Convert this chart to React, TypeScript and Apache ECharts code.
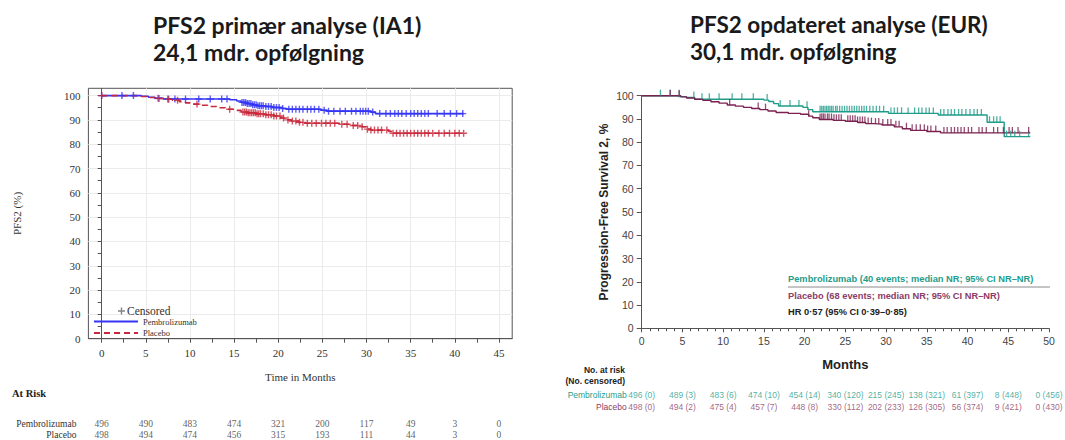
import React, { useEffect, useRef } from "react";
import * as echarts from "echarts";

// ---------- Left panel: PFS2 primær analyse (IA1) ----------
const ia1PembroT = [0, 4.5, 5.3, 6, 7, 14.5, 15.3, 15.8, 16.4, 17, 17.6, 18.5, 19.3, 20.5, 21, 24.8, 25.5, 30.5, 31, 41];
const ia1PembroS = [100, 99.7, 99.3, 98.9, 98.6, 98.3, 97.8, 97.2, 96.7, 96.2, 95.8, 95.5, 95.1, 94.7, 94.4, 94, 93.6, 93.2, 92.6, 92.6];
const ia1PlaceboT = [0, 4.5, 5.5, 6.3, 7, 8, 8.8, 9.5, 10.3, 11, 12, 13, 14, 15, 15.8, 16.5, 17.5, 18.5, 19.5, 20.3, 20.8, 21.5, 22.3, 23, 27, 28, 29.5, 30, 30.5, 32.5, 33, 41];
const ia1PlaceboS = [100, 99.6, 99.2, 98.8, 98.5, 98.1, 97.5, 97, 96.5, 96, 95.5, 95, 94.4, 93.9, 93.2, 92.9, 92.5, 92.1, 91.6, 90.8, 90, 89.5, 89, 88.6, 88.2, 87.7, 87.2, 86.2, 85.8, 85.3, 84.5, 84.5];
const ia1PembroCens = [0, 2.3, 3.6, 6.4, 7.5, 8.3, 9.5, 11, 12.3, 13.6, 14.2, 15.9, 16.1, 16.3, 16.5, 16.7, 16.9, 17.1, 17.3, 17.5, 17.7, 17.9, 18.1, 18.3, 18.6, 18.9, 19.2, 19.5, 19.8, 20.1, 20.5, 21.2, 21.6, 22, 22.4, 22.8, 23.3, 23.7, 24.1, 24.6, 25.2, 25.7, 26.3, 27, 27.6, 28.3, 28.8, 29.3, 29.6, 29.9, 30.2, 30.7, 31.5, 32.2, 32.7, 33.2, 33.6, 34, 34.5, 35, 35.4, 35.8, 36.2, 36.6, 37, 38, 38.8, 39.5, 40.2, 40.9];
const ia1PlaceboCens = [0, 6.5, 7.6, 8.6, 10.8, 14.5, 16, 16.2, 16.4, 16.6, 16.8, 17, 17.2, 17.4, 17.6, 17.8, 18, 18.3, 18.6, 18.9, 19.2, 19.5, 19.8, 20.2, 20.6, 21.1, 21.6, 22, 22.4, 22.8, 23.3, 23.8, 24.3, 24.9, 25.4, 25.9, 26.4, 27.2, 27.8, 28.5, 29, 29.5, 30.1, 30.5, 30.9, 31.3, 31.7, 32.3, 33, 33.4, 33.8, 34.2, 34.6, 35, 35.4, 35.8, 36.2, 36.6, 37, 37.5, 38.2, 38.8, 39.4, 40, 40.5, 41];
const ia1XTicks = [0, 5, 10, 15, 20, 25, 30, 35, 40, 45];
const ia1XMinor = [2.5, 7.5, 12.5, 17.5, 22.5, 27.5, 32.5, 37.5, 42.5];
const ia1YTicks = [0, 10, 20, 30, 40, 50, 60, 70, 80, 90, 100];
const ia1YMinor = [5, 15, 25, 35, 45, 55, 65, 75, 85, 95];
const ia1RiskTimes = [0, 5, 10, 15, 20, 25, 30, 35, 40, 45];
const ia1RiskPembro = [496, 490, 483, 474, 321, 200, 117, 49, 3, 0];
const ia1RiskPlacebo = [498, 494, 474, 456, 315, 193, 111, 44, 3, 0];

// ---------- Right panel: PFS2 opdateret analyse (EUR) ----------
const eurPembroT = [0, 4.5, 5.5, 6.5, 15, 15.6, 16.2, 16.8, 19.8, 20.4, 21, 30.3, 36.4, 42.4, 44.5, 47.7];
const eurPembroS = [100, 99.6, 99.2, 98.5, 98.1, 97.5, 96.6, 95.6, 95, 94, 93.1, 92.4, 91.7, 88.6, 82.4, 82.4];
const eurPlaceboT = [0, 4.8, 5.5, 6.5, 7.5, 8.5, 9.5, 10.5, 11.5, 12.5, 13.5, 14.5, 15.5, 16.5, 18, 19.5, 20.5, 21, 21.8, 23.5, 25, 26.5, 27.5, 28.5, 29.5, 31, 32, 33, 35, 36.7, 47.7];
const eurPlaceboS = [100, 99.5, 99, 98.5, 98, 97.4, 96.8, 96, 95.5, 95, 94.5, 94, 93.4, 92.8, 92.4, 92, 91.2, 90.5, 89.8, 89.4, 89, 88.5, 88, 87.8, 87.4, 86.6, 85.8, 85.1, 84.6, 84, 84];
const eurPembroCens = [2.3, 3.5, 4.6, 6.4, 7.4, 8.3, 9.5, 11.1, 12.3, 13.7, 15.4, 17, 18.2, 19.3, 20.3, 21.9, 22.1, 22.3, 22.5, 22.7, 22.9, 23.1, 23.3, 23.5, 23.8, 24, 24.3, 24.6, 24.9, 25.2, 25.5, 25.8, 26.1, 26.4, 26.7, 27, 27.3, 27.6, 28, 28.4, 28.8, 29.2, 29.7, 30.6, 31, 31.4, 31.9, 32.7, 33.5, 34, 34.4, 34.9, 35.3, 35.8, 36.7, 37.1, 37.6, 38, 38.4, 38.9, 39.3, 39.8, 40.3, 40.8, 41.2, 41.7, 42.7, 43.2, 43.6, 44, 44.8, 45.3, 45.8, 46.4, 47.5];
const eurPlaceboCens = [3.5, 4.6, 10.8, 14.3, 15.2, 20.5, 21.9, 22.1, 22.3, 22.5, 22.8, 23, 23.3, 23.6, 23.9, 24.2, 24.5, 25.3, 25.6, 25.9, 26.2, 26.5, 26.8, 27.1, 27.4, 27.8, 28.2, 28.7, 29.1, 29.6, 30.2, 30.6, 31.2, 31.6, 32.5, 33.2, 33.7, 34.2, 34.7, 35.1, 35.5, 36.1, 37.1, 37.5, 38, 38.4, 38.8, 39.2, 39.6, 40.1, 40.5, 41.4, 41.8, 42.3, 43.2, 43.7, 44.4, 45.1, 45.5, 46.2, 47.5];
const eurRiskTimes = [0, 5, 10, 15, 20, 25, 30, 35, 40, 45, 50];
const eurRiskPembro = [496, 489, 483, 474, 454, 340, 215, 138, 61, 8, 0];
const eurCensPembro = [0, 3, 6, 10, 14, 120, 245, 321, 397, 448, 456];
const eurRiskPlacebo = [498, 494, 475, 457, 448, 330, 202, 126, 56, 9, 0];
const eurCensPlacebo = [0, 2, 4, 7, 8, 112, 233, 305, 374, 421, 430];

const BLUE = "#3535f5";
const RED = "#c8283a";
const TEAL = "#1f9c8a";
const MAROON = "#7b2150";
const MAROON_TXT = "#8c3c66";
const SERIF = "'Liberation Serif', 'Times New Roman', serif";
const SANS = "'Liberation Sans', Arial, sans-serif";
const TITLE = "Lato, 'Open Sans', sans-serif";
const PLUS = "path://M4,0H6V4H10V6H6V10H4V6H0V4H4Z";

const stepAt = (T: number[], S: number[], t: number) => {
  let v = S[0];
  for (let i = 0; i < T.length; i++) if (T[i] <= t) v = S[i];
  return v;
};
const curve = (T: number[], S: number[]) => T.map((t, i) => [t, S[i]]);
const cens = (C: number[], T: number[], S: number[]) => C.map((t) => [t, stepAt(T, S, t)]);

export default function App() {
  const ref = useRef<HTMLDivElement>(null);
  useEffect(() => {
    document.body.style.margin = "0";
    if (!ref.current) return;
    const chart = echarts.init(ref.current, undefined, { renderer: "svg" });
    const axisGrey = "#555";
    const option: any = {
      animation: false,
      backgroundColor: "#fff",
      title: [
        {
          text: "PFS2 primær analyse (IA1)\n24,1 mdr. opfølgning",
          left: 153,
          top: 11,
          padding: 0,
          textStyle: { fontFamily: TITLE, fontSize: 23, fontWeight: "bold", lineHeight: 27, color: "#1a1a1a" },
        },
        {
          text: "PFS2 opdateret analyse (EUR)\n30,1 mdr. opfølgning",
          left: 690,
          top: 11,
          padding: 0,
          textStyle: { fontFamily: TITLE, fontSize: 22.5, fontWeight: "bold", lineHeight: 27, color: "#1a1a1a" },
        },
      ],
      legend: [
        {
          data: [{ name: "Censored", icon: PLUS, itemStyle: { color: "#666" } }],
          left: 118,
          top: 305,
          padding: 0,
          itemWidth: 7,
          itemHeight: 7,
          selectedMode: false,
          textStyle: { fontFamily: SERIF, fontSize: 11.5, color: "#333", padding: [0, 0, 0, -3] },
        },
        {
          data: ["Pembrolizumab", "Placebo"],
          orient: "vertical",
          left: 93,
          top: 317,
          padding: 0,
          itemWidth: 44,
          itemHeight: 7,
          itemGap: 2.5,
          selectedMode: false,
          itemStyle: { opacity: 0 },
          textStyle: { fontFamily: SERIF, fontSize: 8.5, color: "#333" },
        },
      ],
      grid: [
        { left: 88.4, right: 552.8, top: 88.3, bottom: 101.3, show: true, borderColor: axisGrey, borderWidth: 1 },
        { left: 641.7, right: 16, top: 95.7, bottom: 111.7 },
        { left: 88.4, right: 552.8, top: 424, bottom: 3 },
        { left: 641.7, right: 16, top: 395, bottom: 33 },
      ],
      xAxis: [
        {
          gridIndex: 0,
          type: "value",
          min: -1.5,
          max: 46.5,
          axisLine: { show: true, lineStyle: { color: axisGrey } },
          axisTick: { show: true, customValues: ia1XTicks, length: 4, lineStyle: { color: axisGrey } },
          axisLabel: { customValues: ia1XTicks, margin: 9, fontFamily: SERIF, fontSize: 11, color: "#333" },
          splitLine: { show: true, lineStyle: { color: "#ebebeb" } },
          name: "Time in Months",
          nameLocation: "middle",
          nameGap: 33,
          nameTextStyle: { fontFamily: SERIF, fontSize: 11, color: "#333" },
        },
        {
          gridIndex: 0,
          type: "value",
          min: -1.5,
          max: 46.5,
          position: "bottom",
          axisLine: { show: false },
          axisTick: { show: true, customValues: ia1XMinor, length: 4, lineStyle: { color: axisGrey } },
          axisLabel: { show: false },
          splitLine: { show: false },
        },
        {
          gridIndex: 1,
          type: "value",
          min: 0,
          max: 50,
          interval: 5,
          axisLine: { show: true, lineStyle: { color: axisGrey } },
          axisTick: { show: true, length: 4, lineStyle: { color: axisGrey } },
          minorTick: { show: true, splitNumber: 5, length: 3, lineStyle: { color: axisGrey } },
          axisLabel: { margin: 7, fontFamily: SANS, fontSize: 10.5, color: "#444" },
          splitLine: { show: false },
          name: "Months",
          nameLocation: "middle",
          nameGap: 30,
          nameTextStyle: { fontFamily: SANS, fontSize: 13, fontWeight: "bold", color: "#222" },
        },
        { gridIndex: 2, type: "value", min: -1.5, max: 46.5, show: false },
        { gridIndex: 3, type: "value", min: 0, max: 50, show: false },
      ],
      yAxis: [
        {
          gridIndex: 0,
          type: "value",
          min: 0,
          max: 103,
          axisLine: { show: true, lineStyle: { color: axisGrey } },
          axisTick: { show: true, customValues: ia1YTicks, length: 4, lineStyle: { color: axisGrey } },
          axisLabel: { customValues: ia1YTicks, margin: 8, fontFamily: SERIF, fontSize: 11, color: "#333" },
          splitLine: { show: true, lineStyle: { color: "#ebebeb" } },
          name: "PFS2 (%)",
          nameLocation: "middle",
          nameGap: 66,
          nameRotate: 90,
          nameTextStyle: { fontFamily: SERIF, fontSize: 11, color: "#333" },
        },
        {
          gridIndex: 0,
          type: "value",
          min: 0,
          max: 103,
          position: "left",
          axisLine: { show: false },
          axisTick: { show: true, customValues: ia1YMinor, length: 4, lineStyle: { color: axisGrey } },
          axisLabel: { show: false },
          splitLine: { show: false },
        },
        {
          gridIndex: 1,
          type: "value",
          min: 0,
          max: 100,
          interval: 10,
          axisLine: { show: true, lineStyle: { color: axisGrey } },
          axisTick: { show: true, length: 5, lineStyle: { color: axisGrey } },
          axisLabel: { margin: 8, fontFamily: SANS, fontSize: 10.5, color: "#444" },
          splitLine: { show: false },
          name: "Progression-Free Survival 2, %",
          nameLocation: "middle",
          nameGap: 32,
          nameRotate: 90,
          nameTextStyle: { fontFamily: SANS, fontSize: 12, fontWeight: "bold", color: "#222" },
        },
        {
          gridIndex: 2,
          type: "category",
          data: ["Placebo", "Pembrolizumab"],
          boundaryGap: false,
          axisLine: { show: false },
          axisTick: { show: false },
          splitLine: { show: false },
          axisLabel: { interval: 0, hideOverlap: false, margin: 12, fontFamily: SERIF, fontSize: 9.5, color: "#333" },
        },
        {
          gridIndex: 3,
          type: "category",
          data: ["Placebo", "Pembrolizumab"],
          boundaryGap: false,
          axisLine: { show: false },
          axisTick: { show: false },
          splitLine: { show: false },
          axisLabel: {
            interval: 0,
            hideOverlap: false,
            margin: 15,
            fontFamily: SANS,
            fontSize: 8.5,
            color: (_v: any, i: number) => (i === 1 ? TEAL : MAROON_TXT),
          },
        },
      ],
      series: [
        {
          type: "line",
          name: "Pembrolizumab",
          xAxisIndex: 0,
          yAxisIndex: 0,
          step: "end",
          symbol: "none",
          data: curve(ia1PembroT, ia1PembroS),
          lineStyle: { color: BLUE, width: 1.6 },
          itemStyle: { color: BLUE },
        },
        {
          type: "line",
          name: "Placebo",
          xAxisIndex: 0,
          yAxisIndex: 0,
          step: "end",
          symbol: "none",
          data: curve(ia1PlaceboT, ia1PlaceboS),
          lineStyle: { color: RED, width: 1.6, type: [6, 4] },
          itemStyle: { color: RED },
        },
        {
          type: "scatter",
          name: "Censored",
          xAxisIndex: 0,
          yAxisIndex: 0,
          symbol: PLUS,
          symbolSize: 7,
          data: cens(ia1PembroCens, ia1PembroT, ia1PembroS),
          itemStyle: { color: BLUE },
          z: 3,
        },
        {
          type: "scatter",
          name: "Censored",
          xAxisIndex: 0,
          yAxisIndex: 0,
          symbol: PLUS,
          symbolSize: 7,
          data: cens(ia1PlaceboCens, ia1PlaceboT, ia1PlaceboS),
          itemStyle: { color: RED },
          z: 3,
        },
        {
          type: "line",
          name: "Pembrolizumab (EUR)",
          xAxisIndex: 2,
          yAxisIndex: 2,
          step: "end",
          symbol: "none",
          clip: false,
          data: curve(eurPembroT, eurPembroS),
          lineStyle: { color: TEAL, width: 1.4 },
          itemStyle: { color: TEAL },
        },
        {
          type: "line",
          name: "Placebo (EUR)",
          xAxisIndex: 2,
          yAxisIndex: 2,
          step: "end",
          symbol: "none",
          clip: false,
          data: curve(eurPlaceboT, eurPlaceboS),
          lineStyle: { color: MAROON, width: 1.4 },
          itemStyle: { color: MAROON },
        },
        {
          type: "scatter",
          name: "Censored (EUR Pembrolizumab)",
          xAxisIndex: 2,
          yAxisIndex: 2,
          symbol: "rect",
          symbolSize: [1.3, 6],
          symbolOffset: [0, -3],
          clip: false,
          data: cens(eurPembroCens, eurPembroT, eurPembroS),
          itemStyle: { color: TEAL },
          z: 3,
        },
        {
          type: "scatter",
          name: "Censored (EUR Placebo)",
          xAxisIndex: 2,
          yAxisIndex: 2,
          symbol: "rect",
          symbolSize: [1.3, 6],
          symbolOffset: [0, -3],
          clip: false,
          data: cens(eurPlaceboCens, eurPlaceboT, eurPlaceboS),
          itemStyle: { color: MAROON },
          z: 3,
        },
        {
          type: "scatter",
          name: "At risk IA1 Pembrolizumab",
          xAxisIndex: 3,
          yAxisIndex: 3,
          symbolSize: 1,
          itemStyle: { color: "rgba(0,0,0,0)" },
          data: ia1RiskTimes.map((t) => [t, 1]),
          label: {
            show: true,
            position: "inside",
            formatter: (p: any) => String(ia1RiskPembro[p.dataIndex]),
            fontFamily: SERIF,
            fontSize: 9.5,
            color: "#333",
          },
        },
        {
          type: "scatter",
          name: "At risk IA1 Placebo",
          xAxisIndex: 3,
          yAxisIndex: 3,
          symbolSize: 1,
          itemStyle: { color: "rgba(0,0,0,0)" },
          data: ia1RiskTimes.map((t) => [t, 0]),
          label: {
            show: true,
            position: "inside",
            formatter: (p: any) => String(ia1RiskPlacebo[p.dataIndex]),
            fontFamily: SERIF,
            fontSize: 9.5,
            color: "#333",
          },
        },
        {
          type: "scatter",
          name: "At risk EUR Pembrolizumab",
          xAxisIndex: 4,
          yAxisIndex: 4,
          symbolSize: 1,
          clip: false,
          itemStyle: { color: "rgba(0,0,0,0)" },
          data: eurRiskTimes.map((t) => [t, 1]),
          label: {
            show: true,
            position: "inside",
            formatter: (p: any) => `${eurRiskPembro[p.dataIndex]} (${eurCensPembro[p.dataIndex]})`,
            fontFamily: SANS,
            fontSize: 8.5,
            color: TEAL,
          },
        },
        {
          type: "scatter",
          name: "At risk EUR Placebo",
          xAxisIndex: 4,
          yAxisIndex: 4,
          symbolSize: 1,
          clip: false,
          itemStyle: { color: "rgba(0,0,0,0)" },
          data: eurRiskTimes.map((t) => [t, 0]),
          label: {
            show: true,
            position: "inside",
            formatter: (p: any) => `${eurRiskPlacebo[p.dataIndex]} (${eurCensPlacebo[p.dataIndex]})`,
            fontFamily: SANS,
            fontSize: 8.5,
            color: MAROON_TXT,
          },
        },
      ],
      graphic: [
        {
          type: "text",
          left: 12,
          top: 388,
          style: { text: "At Risk", fontFamily: SERIF, fontSize: 10.5, fontWeight: "bold", fill: "#222" },
        },
        {
          type: "text",
          x: 625,
          y: 370,
          style: { text: "No. at risk", fontFamily: SANS, fontSize: 8.5, fontWeight: "bold", fill: "#222", align: "right", verticalAlign: "middle" },
        },
        {
          type: "text",
          x: 625,
          y: 381,
          style: { text: "(No. censored)", fontFamily: SANS, fontSize: 8.5, fontWeight: "bold", fill: "#222", align: "right", verticalAlign: "middle" },
        },
        {
          type: "text",
          x: 788,
          y: 279,
          style: { text: "Pembrolizumab (40 events; median NR; 95% CI NR–NR)", fontFamily: SANS, fontSize: 9.3, fontWeight: "bold", fill: TEAL, verticalAlign: "middle" },
        },
        {
          type: "line",
          shape: { x1: 788, y1: 287, x2: 1050, y2: 287 },
          style: { stroke: "#8a8a8a", lineWidth: 1 },
        },
        {
          type: "text",
          x: 788,
          y: 296,
          style: { text: "Placebo (68 events; median NR; 95% CI NR–NR)", fontFamily: SANS, fontSize: 9.3, fontWeight: "bold", fill: MAROON_TXT, verticalAlign: "middle" },
        },
        {
          type: "text",
          x: 788,
          y: 312,
          style: { text: "HR 0·57 (95% CI 0·39–0·85)", fontFamily: SANS, fontSize: 9.3, fontWeight: "bold", fill: "#222", verticalAlign: "middle" },
        },
      ],
    };
    chart.setOption(option);
    return () => chart.dispose();
  }, []);
  return <div ref={ref} style={{ width: 1065, height: 440 }} />;
}
